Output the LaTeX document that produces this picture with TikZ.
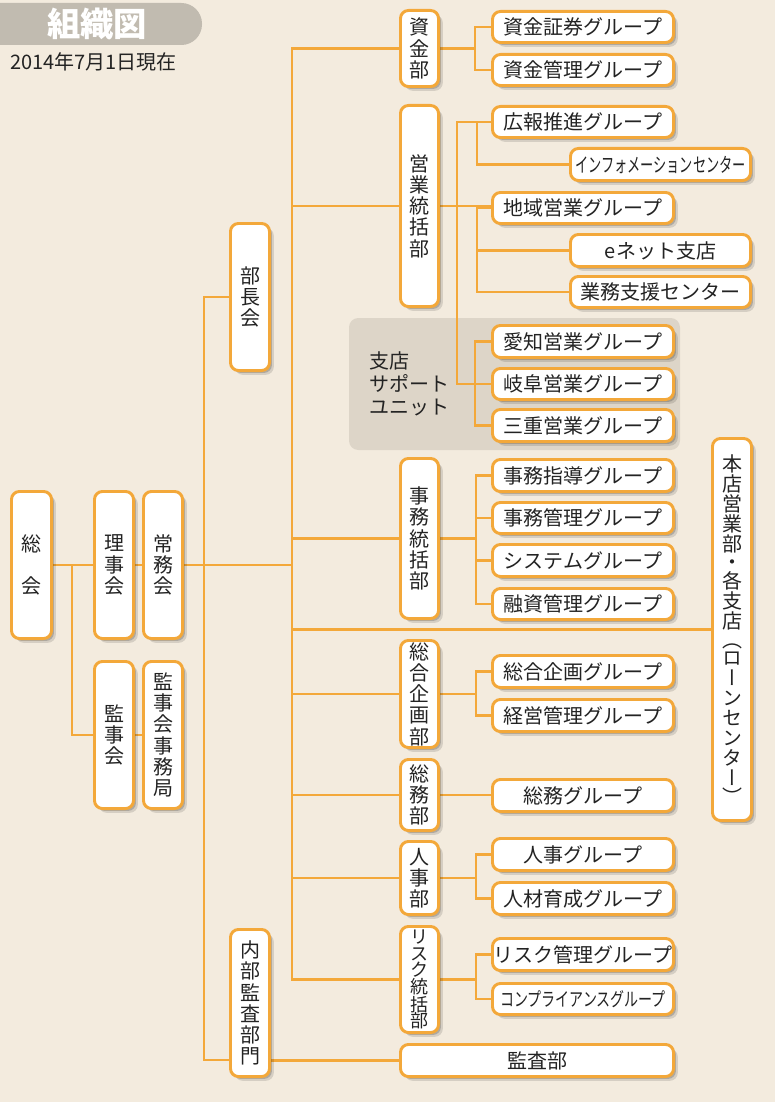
\documentclass[tikz,border=0pt]{standalone}
\usepackage{graphicx}
\usepackage{fontspec}
\setmainfont{Noto Sans CJK JP}
\newfontfamily\vjp[RawFeature=+vert]{Noto Sans CJK JP}
\usetikzlibrary{shadows,calc}
\definecolor{bg}{RGB}{243,235,222}
\definecolor{org}{RGB}{243,168,58}
\definecolor{unitgray}{RGB}{221,213,200}
\definecolor{pill}{RGB}{193,187,176}
\definecolor{txt}{RGB}{35,35,35}
\pgfdeclarelayer{back}
\pgfdeclarelayer{lines}
\pgfsetlayers{back,lines,main}
\tikzset{
  box/.style={draw=org, line width=2.2pt, fill=white, rounded corners=6pt, inner sep=0pt, text=txt,
    drop shadow={shadow xshift=3.2pt, shadow yshift=-3.2pt, fill=black, opacity=0.12},
    drop shadow={shadow xshift=1.8pt, shadow yshift=-1.8pt, fill=black, opacity=0.18}},
  conn/.style={draw=org, line width=1.6pt},
  hfont/.style={font=\fontsize{15pt}{18pt}\selectfont},
  vfont/.style={font=\fontsize{15pt}{15.9pt}\selectfont, align=center},
  vsmall/.style={font=\fontsize{13.5pt}{12.4pt}\selectfont, align=center},
  vvert/.style={font=\vjp\fontsize{15pt}{15pt}\selectfont, align=center},
}
\newcommand\mybox[7][]{\node[box,minimum width={(#5-#3)*0.75pt-2.2pt},minimum height={(#6-#4)*0.75pt-2.2pt},#1] (#2) at ({(#3+#5)/2},{(#4+#6)/2}) {#7};}
\begin{document}
\begin{tikzpicture}[x=0.75pt,y=-0.75pt]
\useasboundingbox (0,0) rectangle (775,1102);
\begin{pgfonlayer}{back}
  \fill[bg] (0,0) rectangle (775,1102);
  \begin{scope}
    \clip (0,0) rectangle (775,1102);
    \fill[pill, rounded corners=15.5pt] (-40,3) rectangle (202,45);
  \end{scope}
  \fill[unitgray, rounded corners=7pt] (349,318) rectangle (680,450);
\end{pgfonlayer}

\node[font=\fontsize{25pt}{25pt}\selectfont\bfseries, text=white] (title) at (97,24) {組織図};
\node[font=\fontsize{15pt}{15pt}\selectfont, anchor=west, text=txt, inner sep=0pt] (date) at (10,62) {2014年7月1日現在};
\node[anchor=west, align=left, inner sep=0pt, text=txt, font=\fontsize{15pt}{17.25pt}\selectfont] (unit) at (369,384) {支店\\サポート\\ユニット};

% left column
\mybox[vfont]{soukai}{10}{490}{53}{640}{総\\[15pt]会}
\mybox[vfont]{riji}{93}{490}{135}{640}{理\\事\\会}
\mybox[vfont]{joumu}{142}{490}{184}{640}{常\\務\\会}
\mybox[vfont]{kanji}{93}{660}{135}{810}{監\\事\\会}
\mybox[vfont]{kjimu}{142}{660}{184}{810}{監\\事\\会\\事\\務\\局}
\mybox[vfont]{buchou}{229}{222}{271}{372}{部\\長\\会}
\mybox[vfont]{naibu}{229}{928}{271}{1078}{内\\部\\監\\査\\部\\門}

% departments
\mybox[vfont]{shikin}{399}{9}{440}{88}{資\\金\\部}
\mybox[vfont]{eigyo}{399}{104}{440}{308}{営\\業\\統\\括\\部}
\mybox[vfont]{jimu}{399}{457}{440}{620}{事\\務\\統\\括\\部}
\mybox[vfont]{kikaku}{399}{639}{440}{749}{総\\合\\企\\画\\部}
\mybox[vfont]{soumu}{399}{758}{440}{832}{総\\務\\部}
\mybox[vfont]{jinji}{399}{840}{440}{916}{人\\事\\部}
\mybox[vsmall]{risk}{399}{925}{440}{1034}{リ\\ス\\ク\\統\\括\\部}
\mybox[hfont]{kansa}{399}{1043}{675}{1078}{監査部}
\mybox[vvert]{honten}{711}{437}{753}{822}{本\\店\\営\\業\\部\\[-1pt]・\\[-1pt]各\\支\\店\\[-1pt]（\\[-1pt]ロ\\ー\\ン\\セ\\ン\\タ\\ー\\[-1pt]）}

% groups
\mybox[hfont]{g1}{491}{10}{675}{44}{資金証券グループ}
\mybox[hfont]{g2}{491}{53}{675}{87}{資金管理グループ}
\mybox[hfont]{kouhou}{491}{105}{675}{139}{広報推進グループ}
\mybox[hfont]{info}{569}{147}{752}{182}{\scalebox{0.66}[1]{インフォメーションセンター}}
\mybox[hfont]{chiiki}{491}{191}{675}{225}{地域営業グループ}
\mybox[hfont]{enet}{569}{233}{752}{268}{eネット支店}
\mybox[hfont]{gyomu}{569}{275}{752}{309}{業務支援センター}
\mybox[hfont]{aichi}{491}{324}{675}{359}{愛知営業グループ}
\mybox[hfont]{gifu}{491}{367}{675}{401}{岐阜営業グループ}
\mybox[hfont]{mie}{491}{408}{675}{443}{三重営業グループ}
\mybox[hfont]{shido}{491}{458}{675}{493}{事務指導グループ}
\mybox[hfont]{kanri}{491}{501}{675}{535}{事務管理グループ}
\mybox[hfont]{system}{491}{543}{675}{578}{システムグループ}
\mybox[hfont]{yushi}{491}{587}{675}{621}{融資管理グループ}
\mybox[hfont]{sogo}{491}{654}{675}{689}{総合企画グループ}
\mybox[hfont]{keiei}{491}{698}{675}{733}{経営管理グループ}
\mybox[hfont]{gsoumu}{491}{778}{675}{813}{総務グループ}
\mybox[hfont]{gjinji}{491}{837}{675}{872}{人事グループ}
\mybox[hfont]{ikusei}{491}{881}{675}{916}{人材育成グループ}
\mybox[hfont]{rkanri}{491}{937}{675}{972}{リスク管理グループ}
\mybox[hfont]{compl}{491}{982}{675}{1016}{\scalebox{0.7}[0.95]{コンプライアンスグループ}}

\coordinate (T1) at (204,0);
\coordinate (T2) at (292,0);
\coordinate (T1b) at (204,1060);

\begin{pgfonlayer}{lines}
  \draw[conn] (soukai.east) -- (riji.west);
  \draw[conn] (riji.east) -- (joumu.west);
  \draw[conn] (joumu.east) -- (joumu.east -| T2);
  \draw[conn] (kanji.west) -- ++(-21,0) |- (soukai.east);
  \draw[conn] (kanji.east) -- (kjimu.west);
  \draw[conn] (buchou.west) -| (T1b) -- (T1b -| naibu.west);
  \draw[conn] (naibu.east |- kansa.west) -- (kansa.west);
  \draw[conn] (shikin.west) -| (risk.west -| T2) -- (risk.west);
  \foreach \n in {eigyo,jimu,kikaku,soumu,jinji,honten}
    \draw[conn] (\n.west) -- (\n.west -| T2);
  % shikin
  \draw[conn] (shikin.east) -- ++(35,0);
  \draw[conn] (g1.west) -- ++(-16,0) |- (g2.west);
  % eigyo
  \draw[conn] (eigyo.east) -- (eigyo.east -| chiiki.west);
  \draw[conn] (kouhou.west) -- ++(-34,0) |- (gifu.west);
  \draw[conn] (info.west) -- ++(-92,0) |- (kouhou.west);
  \draw[conn] (chiiki.west) -- ++(-14,0) |- (gyomu.west);
  \draw[conn] (enet.west) -- ++(-92,0);
  \draw[conn] (aichi.west) -- ++(-16,0) |- (mie.west);
  % jimu
  \draw[conn] (jimu.east) -- ++(36,0);
  \draw[conn] (shido.west) -- ++(-15,0) |- (yushi.west);
  \draw[conn] (kanri.west) -- ++(-15,0);
  \draw[conn] (system.west) -- ++(-15,0);
  % kikaku
  \draw[conn] (kikaku.east) -- ++(36,0);
  \draw[conn] (sogo.west) -- ++(-15,0) |- (keiei.west);
  % soumu
  \draw[conn] (soumu.east) -- (soumu.east -| gsoumu.west);
  % jinji
  \draw[conn] (jinji.east) -- ++(36,0);
  \draw[conn] (gjinji.west) -- ++(-15,0) |- (ikusei.west);
  % risk
  \draw[conn] (risk.east) -- ++(36,0);
  \draw[conn] (rkanri.west) -- ++(-15,0) |- (compl.west);
\end{pgfonlayer}
\end{tikzpicture}
\end{document}
